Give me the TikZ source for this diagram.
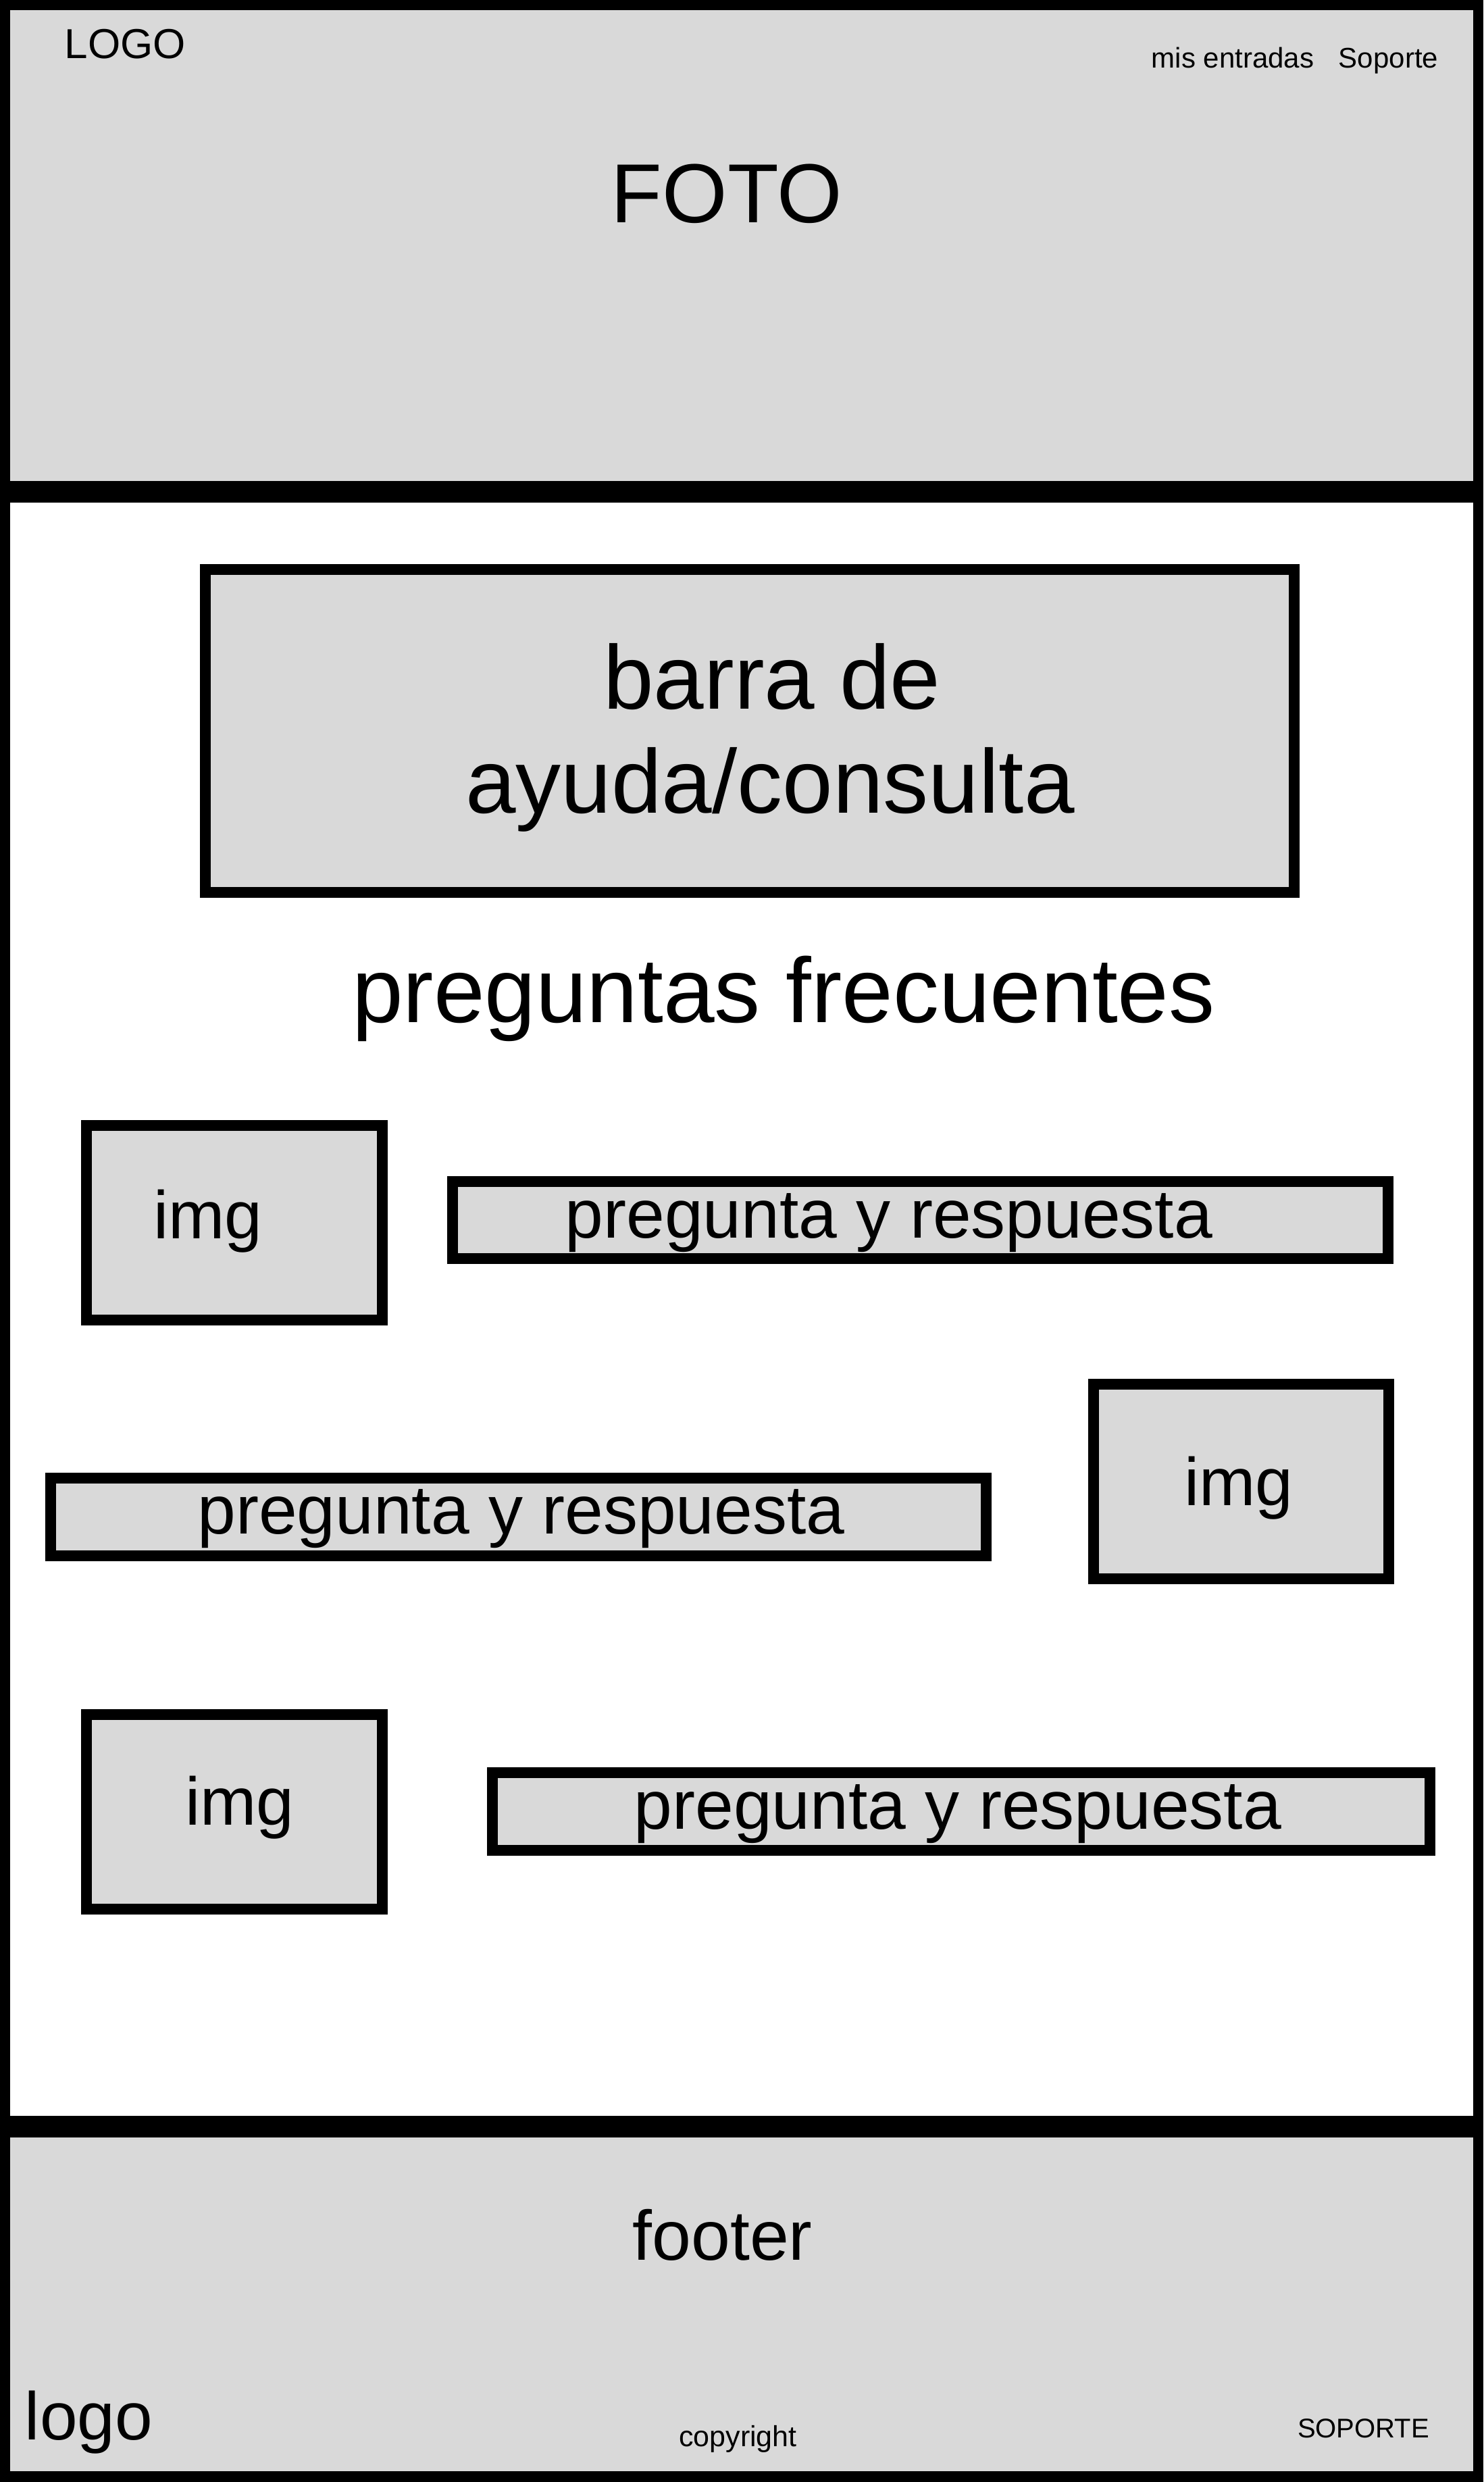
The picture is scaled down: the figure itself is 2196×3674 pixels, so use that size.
\documentclass[tikz,border=0pt]{standalone}
\usepackage{fontspec}
\setmainfont{Liberation Sans}
\definecolor{boxgray}{HTML}{D9D9D9}
\begin{document}
\begin{tikzpicture}[x=1pt,y=-1pt,
  panel/.style={fill=boxgray,draw=black,line width=16pt},
  lbl/.style={anchor=base,inner sep=0pt,text=black},
  fs/.style={font=\fontsize{#1}{#1}\selectfont}]
\useasboundingbox (0,0) rectangle (2196,3674);
% frame
\fill[black] (0,0) rectangle (2196,3674);
\fill[boxgray] (15,15) rectangle (2181,712);
\fill[white] (15,744) rectangle (2181,3132);
\fill[boxgray] (15,3164) rectangle (2181,3658);
% header texts
\node[lbl,fs=62] (logotop) at (185.5,87) {LOGO};
\node[lbl,fs=42] (misentradas) at (1825,101) {mis entradas};
\node[lbl,fs=42] (soporte) at (2055.5,101) {Soporte};
\node[lbl,fs=124] (foto) at (1076,329) {FOTO};
% search bar
\draw[panel] (304,843) rectangle (1916,1321);
\node[lbl,fs=134] (barra1) at (1143,1049) {barra de};
\node[lbl,fs=134] (barra2) at (1140,1203) {ayuda/consulta};
\node[lbl,fs=136] (preguntas) at (1160,1513) {preguntas frecuentes};
% row 1
\draw[panel] (128,1666) rectangle (566,1954);
\node[lbl,fs=100] (img1) at (308,1833) {img};
\draw[panel] (670,1749) rectangle (2055,1863);
\node[lbl,fs=102] (pyr1) at (1316,1832) {pregunta y respuesta};
% row 2
\draw[panel] (75,2188) rectangle (1460,2303);
\node[lbl,fs=102] (pyr2) at (771.5,2270) {pregunta y respuesta};
\draw[panel] (1619,2049) rectangle (2056,2337);
\node[lbl,fs=100] (img2) at (1834,2228) {img};
% row 3
\draw[panel] (128,2538) rectangle (566,2826);
\node[lbl,fs=100] (img3) at (355,2701) {img};
\draw[panel] (729,2624) rectangle (2117,2739);
\node[lbl,fs=102] (pyr3) at (1418,2707) {pregunta y respuesta};
% footer texts
\node[lbl,fs=104] (footer) at (1069.5,3345) {footer};
\node[lbl,fs=100] (logobottom) at (131.5,3611) {logo};
\node[lbl,fs=43] (copyright) at (1092.5,3621) {copyright};
\node[lbl,fs=40] (soportebottom) at (2018.5,3608) {SOPORTE};
\end{tikzpicture}
\end{document}
